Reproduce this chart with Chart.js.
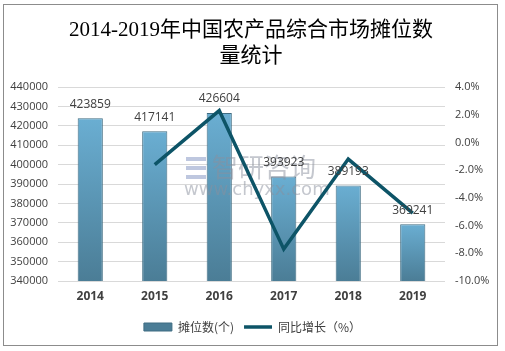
<!DOCTYPE html>
<html>
<head>
<meta charset="utf-8">
<script src="https://cdn.jsdelivr.net/npm/chart.js@4"></script>
<style>
  html, body { margin: 0; padding: 0; background: #fff; }
  #wrap { width: 505px; height: 351px; position: relative; }
</style>
</head>
<body>
<div id="wrap"><canvas id="chart" width="505" height="351"></canvas></div>
<script>
// chart data
const years = ['2014', '2015', '2016', '2017', '2018', '2019'];
const stalls = [423859, 417141, 426604, 393923, 389193, 369241];
const growth = [null, -1.6, 2.3, -7.7, -1.2, -5.1];
const titleLines = ['2014-2019年中国农产品综合市场摊位数', '量统计'];
const seriesNames = ['摊位数(个)', '同比增长（%）'];

const textColor = '#404040';
const lineColor = '#0d5467';

// per-bar vertical gradient
function barFill(ctx) {
    const chart = ctx.chart;
    if (!chart.chartArea || ctx.type !== 'data') return '#5b97b6';
    const y = chart.scales.y;
    const top = y.getPixelForValue(ctx.raw);
    const g = chart.ctx.createLinearGradient(0, top, 0, chart.chartArea.bottom);
    g.addColorStop(0, '#6aaed2');
    g.addColorStop(1, '#4b7d96');
    return g;
}

const framePlugin = {
    id: 'frame',
    beforeDraw(chart) {
        const c = chart.ctx;
        c.save();
        c.fillStyle = '#fff';
        c.fillRect(0, 0, chart.width, chart.height);
        c.strokeStyle = '#8c8c8c';
        c.lineWidth = 1;
        c.strokeRect(3.5, 4.5, 494, 341);
        // title
        c.fillStyle = '#000';
        c.font = '21px "Liberation Serif", "Noto Sans CJK SC", serif';
        c.textAlign = 'center';
        c.textBaseline = 'middle';
        c.fillText(titleLines[0], 251, 30);
        c.fillText(titleLines[1], 251, 56);
        c.restore();
    },
    afterDatasetDraw(chart, args) {
        // watermark, between bars and line
        if (args.index !== 0) return;
        const c = chart.ctx;
        c.save();
        c.globalAlpha = 0.5;
        c.fillStyle = '#8a8f9e';
        c.textAlign = 'left';
        c.textBaseline = 'middle';
        c.font = '26px "Noto Sans CJK SC", sans-serif';
        c.fillText('智研咨询', 212, 167);
        c.font = '18px "DejaVu Sans", sans-serif';
        c.fillText('www.chyxx.com', 184, 190);
        c.fillStyle = '#7d8fc0';
        c.fillRect(186, 157, 20, 4);
        c.fillRect(186, 166, 20, 4);
        c.fillRect(186, 175, 20, 4);
        c.restore();
    },
    afterDatasetsDraw(chart) {
        const c = chart.ctx;
        const meta = chart.getDatasetMeta(0);
        c.save();
        c.fillStyle = textColor;
        c.font = '12px "Open Sans", "DejaVu Sans", sans-serif';
        c.textAlign = 'center';
        c.textBaseline = 'middle';
        meta.data.forEach((bar, i) => {
            c.fillText(String(stalls[i]), bar.x, bar.y - 14);
        });
        c.restore();
    }
};

new Chart(document.getElementById('chart'), {
    data: {
        labels: years,
        datasets: [{
            type: 'bar',
            label: seriesNames[0],
            data: stalls,
            yAxisID: 'y',
            order: 1,
            backgroundColor: barFill,
            borderColor: '#3f6c82',
            borderWidth: 1,
            categoryPercentage: 1,
            barPercentage: 0.39,
            pointStyle: 'rect'
        }, {
            type: 'line',
            label: seriesNames[1],
            data: growth,
            yAxisID: 'y1',
            order: 0,
            borderColor: lineColor,
            backgroundColor: lineColor,
            borderWidth: 3.5,
            borderJoinStyle: 'miter',
            pointRadius: 0,
            pointStyle: 'line',
            tension: 0
        }]
    },
    options: {
        responsive: false,
        animation: false,
        layout: { padding: { top: 87, left: 0, right: 0, bottom: 8 } },
        plugins: {
            title: { display: false },
            tooltip: { enabled: false },
            legend: {
                position: 'bottom',
                labels: {
                    usePointStyle: true,
                    pointStyleWidth: 28,
                    boxHeight: 8,
                    color: textColor,
                    padding: 10,
                    font: { size: 12, family: '"Noto Sans CJK SC", sans-serif' },
                    sort: (a, b) => a.datasetIndex - b.datasetIndex
                }
            }
        },
        scales: {
            x: {
                grid: { display: false, drawTicks: false },
                border: { display: false },
                ticks: {
                    color: textColor,
                    padding: 8,
                    font: { size: 12, weight: 'bold', family: '"Open Sans", "DejaVu Sans", sans-serif' }
                },
                afterFit(axis) { axis.height = 30; }
            },
            y: {
                position: 'left',
                min: 340000,
                max: 440000,
                ticks: {
                    stepSize: 10000,
                    color: textColor,
                    padding: 10,
                    font: { size: 11, family: '"Open Sans", "DejaVu Sans", sans-serif' },
                    callback: v => String(v)
                },
                grid: { color: '#d9d9d9', drawTicks: false },
                border: { display: false },
                afterFit(axis) { axis.width = 58; }
            },
            y1: {
                position: 'right',
                min: -10,
                max: 4,
                ticks: {
                    stepSize: 2,
                    color: textColor,
                    padding: 10,
                    font: { size: 11, family: '"Open Sans", "DejaVu Sans", sans-serif' },
                    callback: v => v.toFixed(1) + '%'
                },
                grid: { display: false, drawTicks: false },
                border: { display: false },
                afterFit(axis) { axis.width = 60; }
            }
        }
    },
    plugins: [framePlugin]
});
</script>
</body>
</html>
